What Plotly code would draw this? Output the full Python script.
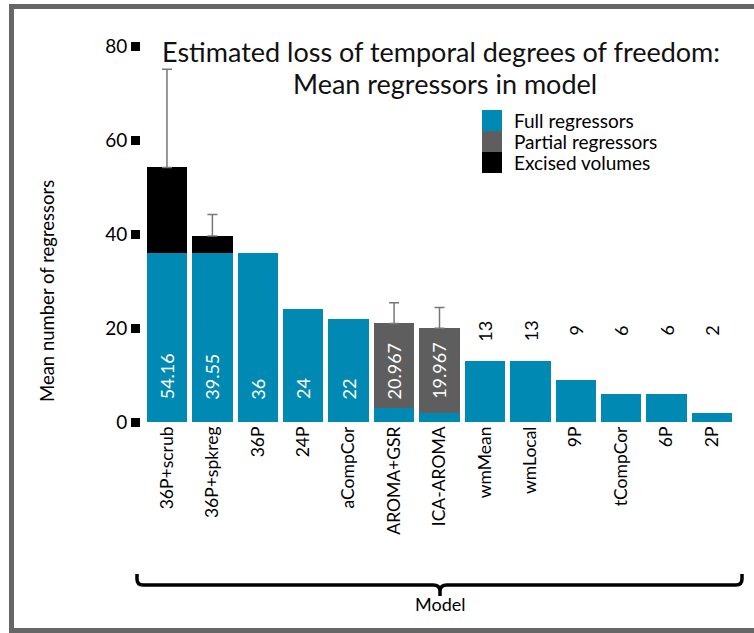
import plotly.graph_objects as go

# ---------------- data ----------------
models = ["36P+scrub", "36P+spkreg", "36P", "24P", "aCompCor", "AROMA+GSR",
          "ICA-AROMA", "wmMean", "wmLocal", "9P", "tCompCor", "6P", "2P"]
full_regressors = [36, 36, 36, 24, 22, 3, 2, 13, 13, 9, 6, 6, 2]
partial_regressors = [0, 0, 0, 0, 0, 17.967, 17.967, 0, 0, 0, 0, 0, 0]
excised_volumes = [18.16, 3.55, 0, 0, 0, 0, 0, 0, 0, 0, 0, 0, 0]
error_plus = [20.9, 4.6, 0, 0, 0, 4.4, 4.4, 0, 0, 0, 0, 0, 0]
value_labels = ["54.16", "39.55", "36", "24", "22", "20.967", "19.967",
                "13", "13", "9", "6", "6", "2"]
series_names = ["Full regressors", "Partial regressors", "Excised volumes"]
y_ticks = [0, 20, 40, 60, 80]
title_lines = ["Estimated loss of temporal degrees of freedom:", "Mean regressors in model"]

# ---------------- style ----------------
C_FULL = "#0089b3"
C_PART = "#5e5e5e"
C_EXC = "#000000"
FONT = "Lato"
W, H = 754, 633
L, R, T, B = 141, 19, 46, 211   # plot area in pixels: x 141..735, y 46..422
PW, PH = W - L - R, H - T - B


def px(x):
    return (x - L) / PW


def py(y):
    return (H - B - y) / PH


totals = [f + p + e for f, p, e in zip(full_regressors, partial_regressors, excised_volumes)]

fig = go.Figure()
for name, vals, col in zip(series_names,
                           [full_regressors, partial_regressors, excised_volumes],
                           [C_FULL, C_PART, C_EXC]):
    fig.add_trace(go.Bar(x=models, y=vals, name=name, marker=dict(color=col, line=dict(width=0)),
                         showlegend=False, hoverinfo="x+y+name"))

# error bars on the stack totals (only where an error exists)
eb = [(m, t, e) for m, t, e in zip(models, totals, error_plus) if e > 0]
fig.add_trace(go.Scatter(
    x=[a[0] for a in eb], y=[a[1] for a in eb], mode="markers",
    marker=dict(size=1, opacity=0), showlegend=False, hoverinfo="skip",
    error_y=dict(type="data", symmetric=False, array=[a[2] for a in eb],
                 arrayminus=[0] * len(eb), color="#777777", thickness=1.5, width=5),
))

annotations = []
# value labels
for m, t, lab in zip(models, totals, value_labels):
    if t >= 15:
        annotations.append(dict(x=m, y=4.4, xref="x", yref="y", text=lab, showarrow=False,
                                textangle=-90, yanchor="bottom", xanchor="center",
                                font=dict(family=FONT, size=18, color="white")))
    else:
        annotations.append(dict(x=m, y=19.4, xref="x", yref="y", text=lab, showarrow=False,
                                textangle=-90, yanchor="middle", xanchor="center",
                                font=dict(family=FONT, size=18, color="black")))

# title (two lines)
for txt, cx, cy in zip(title_lines, [441.5, 444.5], [51, 83]):
    annotations.append(dict(x=px(cx), y=py(cy), xref="paper", yref="paper", text=txt,
                            showarrow=False, xanchor="center", yanchor="middle",
                            font=dict(family=FONT, size=27, color="#111111")))
# y-axis title
annotations.append(dict(x=px(47), y=py(291), xref="paper", yref="paper",
                        text="Mean number of regressors", showarrow=False, textangle=-90,
                        xanchor="center", yanchor="middle",
                        font=dict(family=FONT, size=18.5, color="black")))
# x-axis title
annotations.append(dict(x=px(440), y=py(604), xref="paper", yref="paper",
                        text="Model", showarrow=False, xanchor="center", yanchor="middle",
                        font=dict(family=FONT, size=18, color="black")))

shapes = []
# custom legend (contiguous swatches)
sw_top = [110, 131, 152]
for name, col, top in zip(series_names, [C_FULL, C_PART, C_EXC], sw_top):
    shapes.append(dict(type="rect", xref="paper", yref="paper",
                       x0=px(482), x1=px(502), y0=py(top), y1=py(top + 21),
                       fillcolor=col, line=dict(width=0)))
    annotations.append(dict(x=px(512), y=py(top + 10.5), xref="paper", yref="paper",
                            text=name, showarrow=False, xanchor="left", yanchor="middle",
                            font=dict(family=FONT, size=19, color="black")))


# brace under the category labels
def P(x, y):
    return f"{px(x):.5f},{py(y):.5f}"


brace = (f"M {P(137,574)} L {P(137,579)} Q {P(137,585)} {P(143,585)} "
         f"L {P(433,585)} Q {P(440,585)} {P(440,591)} L {P(440,596)} "
         f"M {P(440,591)} Q {P(440,585)} {P(447,585)} "
         f"L {P(736,585)} Q {P(742,585)} {P(742,579)} L {P(742,574)}")
shapes.append(dict(type="path", xref="paper", yref="paper", path=brace,
                   line=dict(color="black", width=3.5)))

# outer frame
shapes.append(dict(type="rect", xref="paper", yref="paper",
                   x0=px(11.5), x1=px(765), y0=py(6.5), y1=py(630.5),
                   line=dict(color="#666666", width=5), fillcolor="rgba(0,0,0,0)"))

fig.update_layout(
    width=W, height=H, barmode="stack", bargap=0.11,
    margin=dict(l=L, r=R, t=T, b=B),
    paper_bgcolor="white", plot_bgcolor="white",
    font=dict(family=FONT, color="black"),
    annotations=annotations, shapes=shapes,
    xaxis=dict(range=[-0.572, 12.506], showgrid=False, showline=False, zeroline=False,
               tickangle=-90, tickfont=dict(family=FONT, size=17.5, color="black"), ticks=""),
    yaxis=dict(range=[0, 80], tickvals=y_ticks, showgrid=False, showline=False, zeroline=False,
               ticks="outside", ticklen=9, tickwidth=9, tickcolor="black",
               tickfont=dict(family=FONT, size=19, color="black")),
)

fig.write_html("out.html", config={"displayModeBar": False},
               post_script="document.body.style.margin='0px';document.body.style.overflow='hidden';")
